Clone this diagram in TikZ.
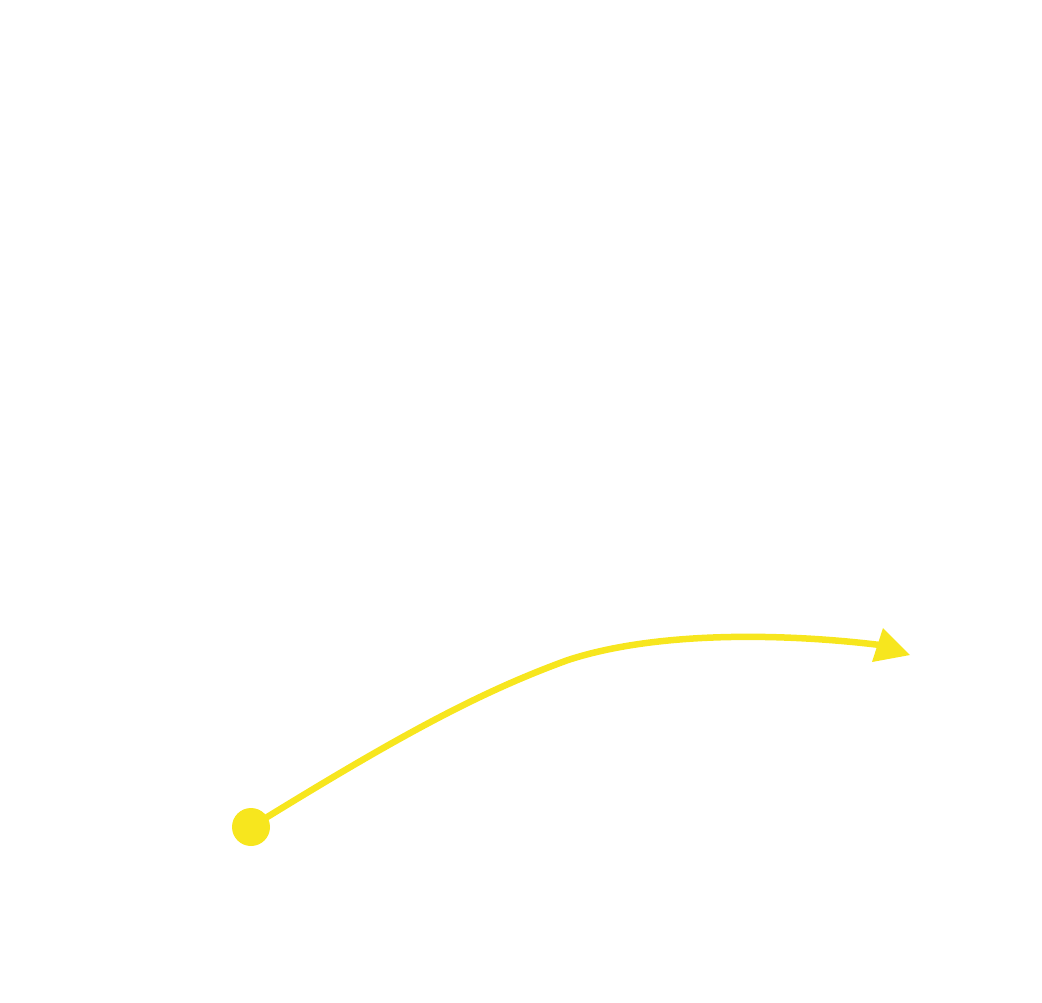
\documentclass[tikz,border=0pt]{standalone}
\definecolor{vyellow}{RGB}{247,230,30}
\begin{document}
\begin{tikzpicture}[x=1pt,y=-1pt,
  curve/.style={draw=vyellow,line width=6.5pt},
  dotnode/.style={circle,fill=vyellow,minimum size=38pt,inner sep=0pt}]
\useasboundingbox (0,0) rectangle (1042,1002);
\node[dotnode] (start) at (251,827) {};
\coordinate (mid) at (568,660);
\coordinate (stop) at (880,645);
\coordinate (tip) at (910,655);
\coordinate (c1) at (883,628);
\coordinate (c2) at (872,662);
\draw[curve] (start.center) .. controls (400,735) and (480,692) .. (mid)
  .. controls (660,630) and (790,634) .. (stop);
\fill[vyellow] (tip) -- (c1) -- (c2) -- cycle;
\end{tikzpicture}
\end{document}
